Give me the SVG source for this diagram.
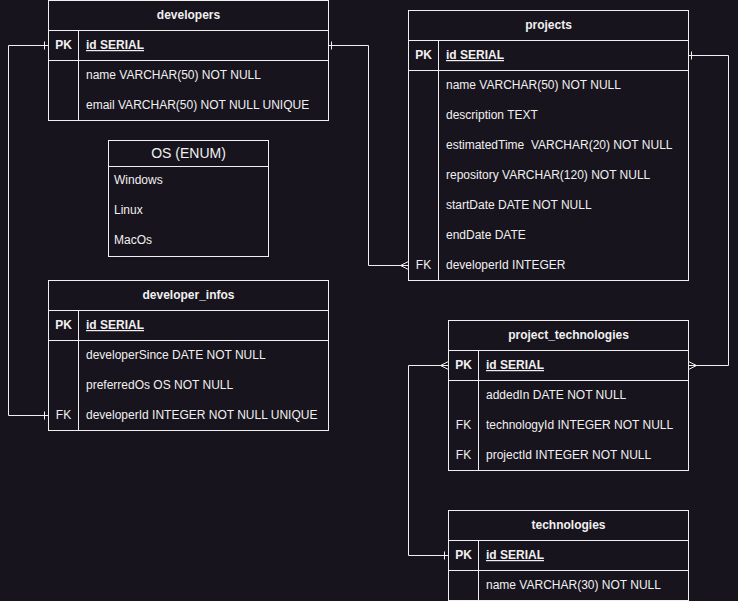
<svg xmlns="http://www.w3.org/2000/svg" width="738" height="601" viewBox="0 0 738 601">
<style>
.bg{fill:#18141d}
.box{fill:#18141d;stroke:#f0f0f0;stroke-width:1}
.ln{stroke:#f0f0f0;stroke-width:1;fill:none}
text{font-family:"Liberation Sans",Arial,sans-serif;font-size:12px;fill:#f0f0f0}
.h{font-weight:bold;text-anchor:middle}
.k{text-anchor:middle}
.kb{font-weight:bold;text-anchor:middle}
.pk{font-weight:bold;text-decoration:underline}
.t{font-size:14px;text-anchor:middle}
.pre{white-space:pre}
</style>
<rect class="bg" x="0" y="0" width="738" height="601"/>

<g id="developers">
<rect class="box" x="48.5" y="0.5" width="280" height="120"/>
<path class="ln" d="M48.5 30.5H328.5M48.5 60.5H328.5M78.5 30.5V120.5"/>
<text class="h" x="188.5" y="19">developers</text>
<text class="kb" x="63.5" y="49">PK</text>
<text class="pk" x="86" y="49">id SERIAL</text>
<text x="86" y="79">name VARCHAR(50) NOT NULL</text>
<text x="86" y="109">email VARCHAR(50) NOT NULL UNIQUE</text>
</g>

<g id="os_enum">
<rect class="box" x="108.5" y="140.5" width="160" height="116"/>
<path class="ln" d="M108.5 166.5H268.5"/>
<text class="t" x="188.5" y="158">OS (ENUM)</text>
<text x="114" y="184">Windows</text>
<text x="114" y="214">Linux</text>
<text x="114" y="244">MacOs</text>
</g>

<g id="developer_infos">
<rect class="box" x="48.5" y="280.5" width="280" height="150"/>
<path class="ln" d="M48.5 310.5H328.5M48.5 340.5H328.5M78.5 310.5V430.5"/>
<text class="h" x="188.5" y="299">developer_infos</text>
<text class="kb" x="63.5" y="329">PK</text>
<text class="pk" x="86" y="329">id SERIAL</text>
<text x="86" y="359">developerSince DATE NOT NULL</text>
<text x="86" y="389">preferredOs OS NOT NULL</text>
<text class="k" x="63.5" y="419">FK</text>
<text x="86" y="419">developerId INTEGER NOT NULL UNIQUE</text>
</g>

<g id="projects">
<rect class="box" x="408.5" y="10.5" width="280" height="270"/>
<path class="ln" d="M408.5 40.5H688.5M408.5 70.5H688.5M438.5 40.5V280.5"/>
<text class="h" x="548.5" y="29">projects</text>
<text class="kb" x="423.5" y="59">PK</text>
<text class="pk" x="446" y="59">id SERIAL</text>
<text x="446" y="89">name VARCHAR(50) NOT NULL</text>
<text x="446" y="119">description TEXT</text>
<text class="pre" x="446" y="149" xml:space="preserve">estimatedTime  VARCHAR(20) NOT NULL</text>
<text x="446" y="179">repository VARCHAR(120) NOT NULL</text>
<text x="446" y="209">startDate DATE NOT NULL</text>
<text x="446" y="239">endDate DATE</text>
<text class="k" x="423.5" y="269">FK</text>
<text x="446" y="269">developerId INTEGER</text>
</g>

<g id="project_technologies">
<rect class="box" x="448.5" y="320.5" width="240" height="150"/>
<path class="ln" d="M448.5 350.5H688.5M448.5 380.5H688.5M478.5 350.5V470.5"/>
<text class="h" x="568.5" y="339">project_technologies</text>
<text class="kb" x="463.5" y="369">PK</text>
<text class="pk" x="486" y="369">id SERIAL</text>
<text x="486" y="399">addedIn DATE NOT NULL</text>
<text class="k" x="463.5" y="429">FK</text>
<text x="486" y="429">technologyId INTEGER NOT NULL</text>
<text class="k" x="463.5" y="459">FK</text>
<text x="486" y="459">projectId INTEGER NOT NULL</text>
</g>

<g id="technologies">
<rect class="box" x="448.5" y="510.5" width="240" height="90"/>
<path class="ln" d="M448.5 540.5H688.5M448.5 570.5H688.5M478.5 540.5V600.5"/>
<text class="h" x="568.5" y="529">technologies</text>
<text class="kb" x="463.5" y="559">PK</text>
<text class="pk" x="486" y="559">id SERIAL</text>
<text x="486" y="589">name VARCHAR(30) NOT NULL</text>
</g>

<g id="connectors">
<path class="ln" d="M48.5 45.5H8.5V415.5H48.5"/>
<path class="ln" d="M44.5 41.5V49.5M44.5 411.5V419.5"/>
<path class="ln" d="M328.5 45.5H368.5V265.5H408.5"/>
<path class="ln" d="M331.5 41.5V49.5M408.5 261.5L400.5 265.5L408.5 269.5"/>
<path class="ln" d="M688.5 55.5H728.5V365.5H688.5"/>
<path class="ln" d="M691.5 51.5V59.5M688.5 361.5L696.5 365.5L688.5 369.5"/>
<path class="ln" d="M448.5 365.5H408.5V555.5H448.5"/>
<path class="ln" d="M448.5 361.5L440.5 365.5L448.5 369.5M444.5 551.5V559.5"/>
</g>
</svg>
